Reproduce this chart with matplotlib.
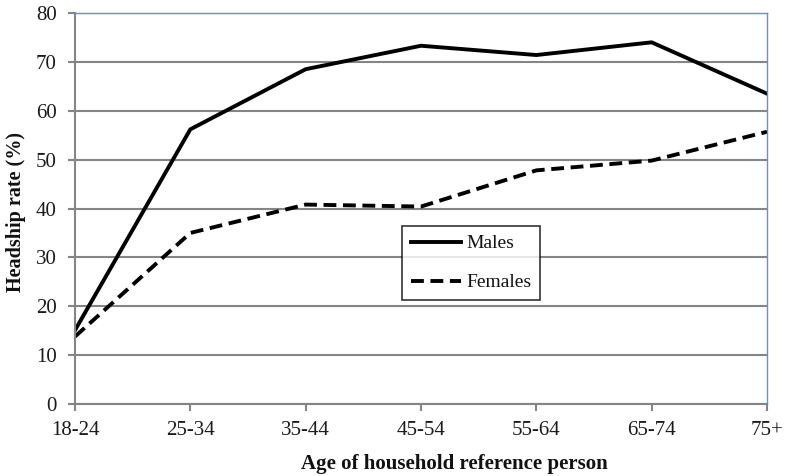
import matplotlib
matplotlib.use('Agg')
import matplotlib.pyplot as plt

# headship rate by age of household reference person
age_groups = ['18-24', '25-34', '35-44', '45-54', '55-64', '65-74', '75+']
males = [15.1, 56.2, 68.5, 73.3, 71.4, 74.0, 63.5]
females = [13.8, 35.0, 40.8, 40.4, 47.8, 49.8, 55.7]

plt.rcParams['font.family'] = ['Liberation Serif', 'DejaVu Serif']

W, H = 785, 476
fig = plt.figure(figsize=(W / 100, H / 100), dpi=100)
ax = fig.add_axes([75 / W, 1 - 404 / H, (767 - 75) / W, (404 - 13) / H])

x = list(range(len(age_groups)))
ax.plot(x, males, '-', color='black', linewidth=2.8, label='Males')
ax.plot(x, females, '--', color='black', linewidth=2.8, dashes=(3.3, 1.7), label='Females')

ax.set_xlim(0, len(age_groups) - 1)
ax.set_ylim(0, 80)
ax.set_yticks(range(0, 81, 10))
ax.set_xticks(x)
ax.set_xticklabels(age_groups)

ax.yaxis.grid(True, color='#858585', linewidth=1.5)
ax.set_axisbelow(True)

for side in ('left', 'bottom'):
    ax.spines[side].set_color('#858585')
    ax.spines[side].set_linewidth(1.5)
for side in ('top', 'right'):
    ax.spines[side].set_color('#6f8fc4')
    ax.spines[side].set_linewidth(1.0)

ax.tick_params(axis='both', colors='#858585', length=5, width=1.5, labelsize=15,
               labelcolor='#1a1a1a')
ax.tick_params(axis='y', pad=8)
ax.tick_params(axis='x', pad=7)

fig.text(454 / W, 1 - 469 / H, 'Age of household reference person', fontsize=15,
         fontweight='bold', ha='center', va='baseline', color='#111111')
fig.text(16 / W, 1 - 212 / H, 'Headship rate (%)', fontsize=14.5, fontweight='bold',
         rotation=90, ha='center', va='center', color='#111111')

leg = ax.legend(loc='upper left', bbox_to_anchor=((402 - 75) / 692, (404 - 226) / 391),
                frameon=True, fancybox=False, edgecolor='black', fontsize=14,
                handlelength=2.6, handletextpad=0.25, borderpad=0.45, labelspacing=1.1,
                borderaxespad=0)
leg.get_frame().set_linewidth(1.2)
for t in leg.get_texts():
    t.set_color('#111111')

fig.savefig('out.png', dpi=100)
